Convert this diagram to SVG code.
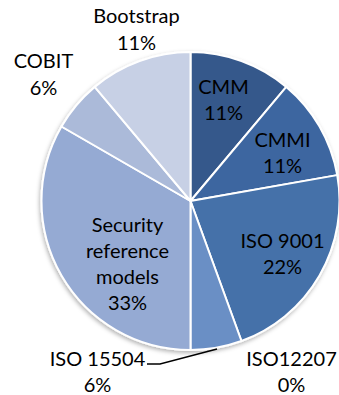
<svg xmlns="http://www.w3.org/2000/svg" width="339" height="395" viewBox="0 0 339 395">
<defs>
<filter id="sh" x="-10%" y="-10%" width="120%" height="120%">
<feDropShadow dx="-1" dy="2" stdDeviation="2" flood-color="#000" flood-opacity="0.3"/>
</filter>
</defs>
<style>
.s{stroke:#fff;stroke-width:2;stroke-linejoin:round}
text{font-family:Lato,"Open Sans","Liberation Sans",sans-serif;font-size:20px;fill:#000;text-anchor:middle}
</style>
<rect width="339" height="395" fill="#fff"/>
<g filter="url(#sh)">
<g id="cmm"><path class="s" fill="#36588b" d="M190.5,201 L190.5,52 A149,149 0 0 1 286.28,86.86 Z"/></g>
<g id="cmmi"><path class="s" fill="#3e66a0" d="M190.5,201 L286.28,86.86 A149,149 0 0 1 337.24,175.13 Z"/></g>
<g id="iso9001"><path class="s" fill="#4571a9" d="M190.5,201 L337.24,175.13 A149,149 0 0 1 241.46,341.01 Z"/></g>
<g id="iso15504"><path class="s" fill="#6b8fc5" d="M190.5,201 L241.46,341.01 A149,149 0 0 1 190.5,350 Z"/></g>
<g id="security"><path class="s" fill="#95aad3" d="M190.5,201 L190.5,350 A149,149 0 0 1 61.46,126.5 Z"/></g>
<g id="cobit"><path class="s" fill="#abbad9" d="M190.5,201 L61.46,126.5 A149,149 0 0 1 94.72,86.86 Z"/></g>
<g id="bootstrap"><path class="s" fill="#c7d0e5" d="M190.5,201 L94.72,86.86 A149,149 0 0 1 190.5,52 Z"/></g>
</g>
<g id="connectors">
<polyline points="147,364 160,364 217,349" fill="none" stroke="#000" stroke-width="1.3"/>
</g>
<g id="labels">
<text x="136.5" y="23">Bootstrap</text><text x="136.5" y="50">11%</text>
<text x="43.5" y="68">COBIT</text><text x="43.5" y="95">6%</text>
<text x="223.5" y="94">CMM</text><text x="223.5" y="120">11%</text>
<text x="282.5" y="147">CMMI</text><text x="282.5" y="173">11%</text>
<text x="282.5" y="248">ISO 9001</text><text x="282.5" y="274">22%</text>
<text x="127.5" y="232">Security</text><text x="127.5" y="258">reference</text><text x="127.5" y="284">models</text><text x="127.5" y="310">33%</text>
<text x="97.5" y="366">ISO 15504</text><text x="97.5" y="392">6%</text>
<text x="291.5" y="366">ISO12207</text><text x="291.5" y="392">0%</text>
</g>
</svg>
